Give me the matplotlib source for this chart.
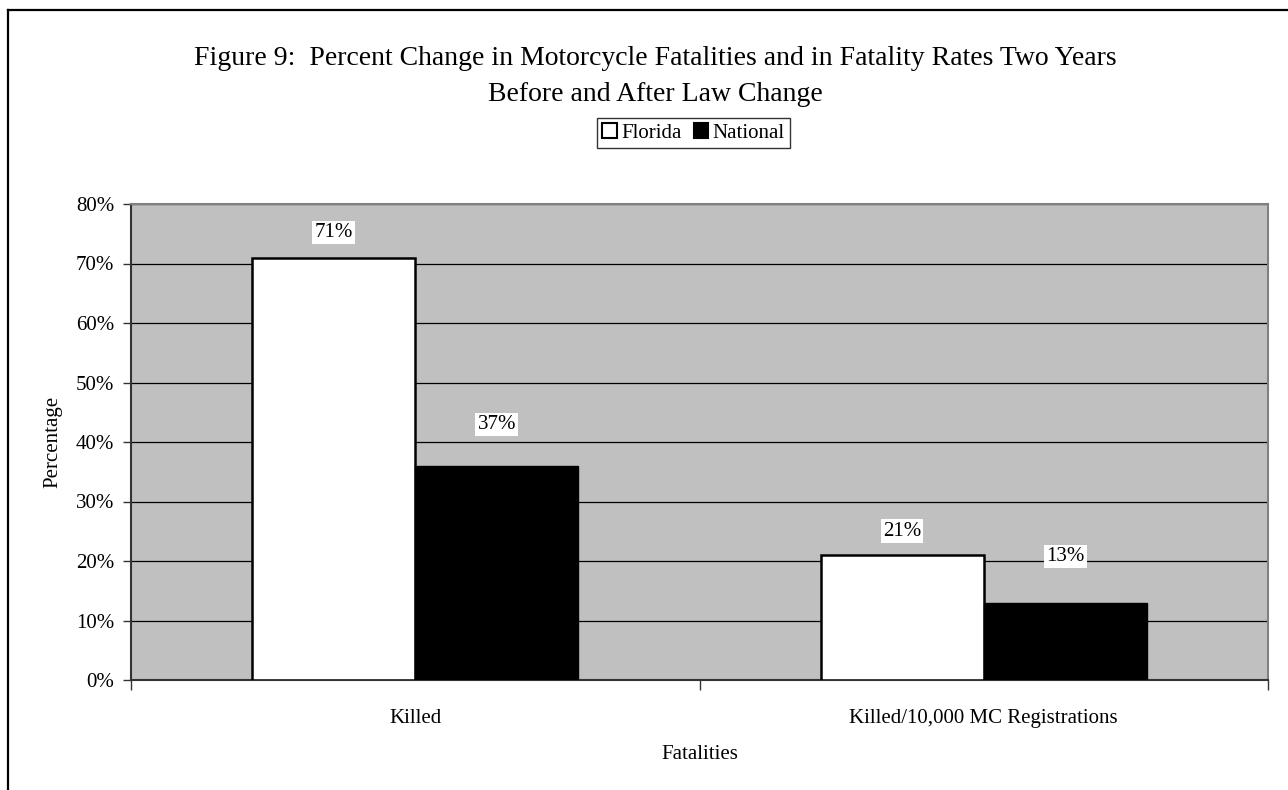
import matplotlib
matplotlib.use("Agg")
import matplotlib.pyplot as plt
from matplotlib.lines import Line2D
from matplotlib.patches import Patch
import numpy as np

categories = ["Killed", "Killed/10,000 MC Registrations"]
series_names = ["Florida", "National"]
florida = [71, 21]
national = [36, 13]
florida_labels = ["71%", "21%"]
national_labels = ["37%", "13%"]
yticks = [0, 10, 20, 30, 40, 50, 60, 70, 80]
ytick_labels = ["0%", "10%", "20%", "30%", "40%", "50%", "60%", "70%", "80%"]

plt.rcParams['font.family'] = ['Liberation Serif', 'DejaVu Serif']

W, H = 1288, 790
fig = plt.figure(figsize=(W / 100, H / 100), dpi=100)
fig.patch.set_facecolor('white')

# figure frame (top and left visible)
fig.add_artist(Line2D([8 / W, 8 / W], [0, 1 - 9.5 / H], color='black', lw=1.6, transform=fig.transFigure))
fig.add_artist(Line2D([8 / W, 1], [1 - 9.5 / H, 1 - 9.5 / H], color='black', lw=1.6, transform=fig.transFigure))

ax = fig.add_axes([131 / W, (H - 680) / H, (1268 - 131) / W, (680 - 204) / H])
ax.set_facecolor('#C0C0C0')

x = np.arange(len(categories))
bw = 0.287
b1 = ax.bar(x - bw / 2, florida, bw, color='white', edgecolor='black', linewidth=1.8, zorder=3)
b2 = ax.bar(x + bw / 2, national, bw, color='black', edgecolor='black', linewidth=1.0, zorder=3)

ax.set_xlim(-0.5, 1.5)
ax.set_ylim(0, 80)
ax.set_yticks(yticks)
ax.set_yticklabels(ytick_labels, fontsize=15)
ax.yaxis.grid(True, color='black', linewidth=0.9, zorder=1)
ax.set_axisbelow(True)

# category ticks at boundaries, labels at centers
ax.set_xticks([-0.5, 0.5, 1.5])
ax.set_xticklabels([])
ax.set_xticks(x, minor=True)
ax.set_xticklabels(categories, minor=True, fontsize=15)
ax.tick_params(axis='x', which='minor', length=0, pad=21)
ax.tick_params(axis='x', which='major', length=7, width=1, color='#333333', direction='out')
ax.tick_params(axis='y', length=6, width=1, color='#333333', direction='out', pad=6)

for s in ['top', 'right']:
    ax.spines[s].set_color('#808080')
    ax.spines[s].set_linewidth(1.5)
for s in ['left', 'bottom']:
    ax.spines[s].set_color('#333333')
    ax.spines[s].set_linewidth(1.5)

ax.set_ylabel("Percentage", fontsize=15, labelpad=10)
ax.set_xlabel("Fatalities", fontsize=15, labelpad=12)

# data labels (manual offsets in pixels, as in the original)
fl_off = [25, 24]
na_off = [41, 46]
for rect, lab, off in zip(b1, florida_labels, fl_off):
    ax.annotate(lab, (rect.get_x() + rect.get_width() / 2, rect.get_height()),
                xytext=(0, off), textcoords='offset pixels', ha='center', va='center',
                fontsize=15, bbox=dict(facecolor='white', edgecolor='none', pad=1.5), zorder=5)
for rect, lab, off in zip(b2, national_labels, na_off):
    ax.annotate(lab, (rect.get_x() + rect.get_width() / 2, rect.get_height()),
                xytext=(0, off), textcoords='offset pixels', ha='center', va='center',
                fontsize=15, bbox=dict(facecolor='white', edgecolor='none', pad=1.5), zorder=5)

# title
fig.text(655 / W, 1 - 65 / H, "Figure 9:  Percent Change in Motorcycle Fatalities and in Fatality Rates Two Years",
         ha='center', va='baseline', fontsize=20)
fig.text(655 / W, 1 - 101 / H, "Before and After Law Change", ha='center', va='baseline', fontsize=20)

# legend
handles = [Patch(facecolor='white', edgecolor='black', linewidth=1.5, label=series_names[0]),
           Patch(facecolor='black', edgecolor='black', linewidth=1.5, label=series_names[1])]
leg = fig.legend(handles=handles, loc='upper left', bbox_to_anchor=(597 / W, 1 - 118 / H),
                 ncol=2, fontsize=15, frameon=True, fancybox=False, edgecolor='black',
                 handlelength=0.7, handleheight=0.7, handletextpad=0.2, columnspacing=0.6,
                 borderpad=0.25, borderaxespad=0)
leg.get_frame().set_linewidth(1.0)

fig.savefig("out.png", dpi=100, facecolor='white')
